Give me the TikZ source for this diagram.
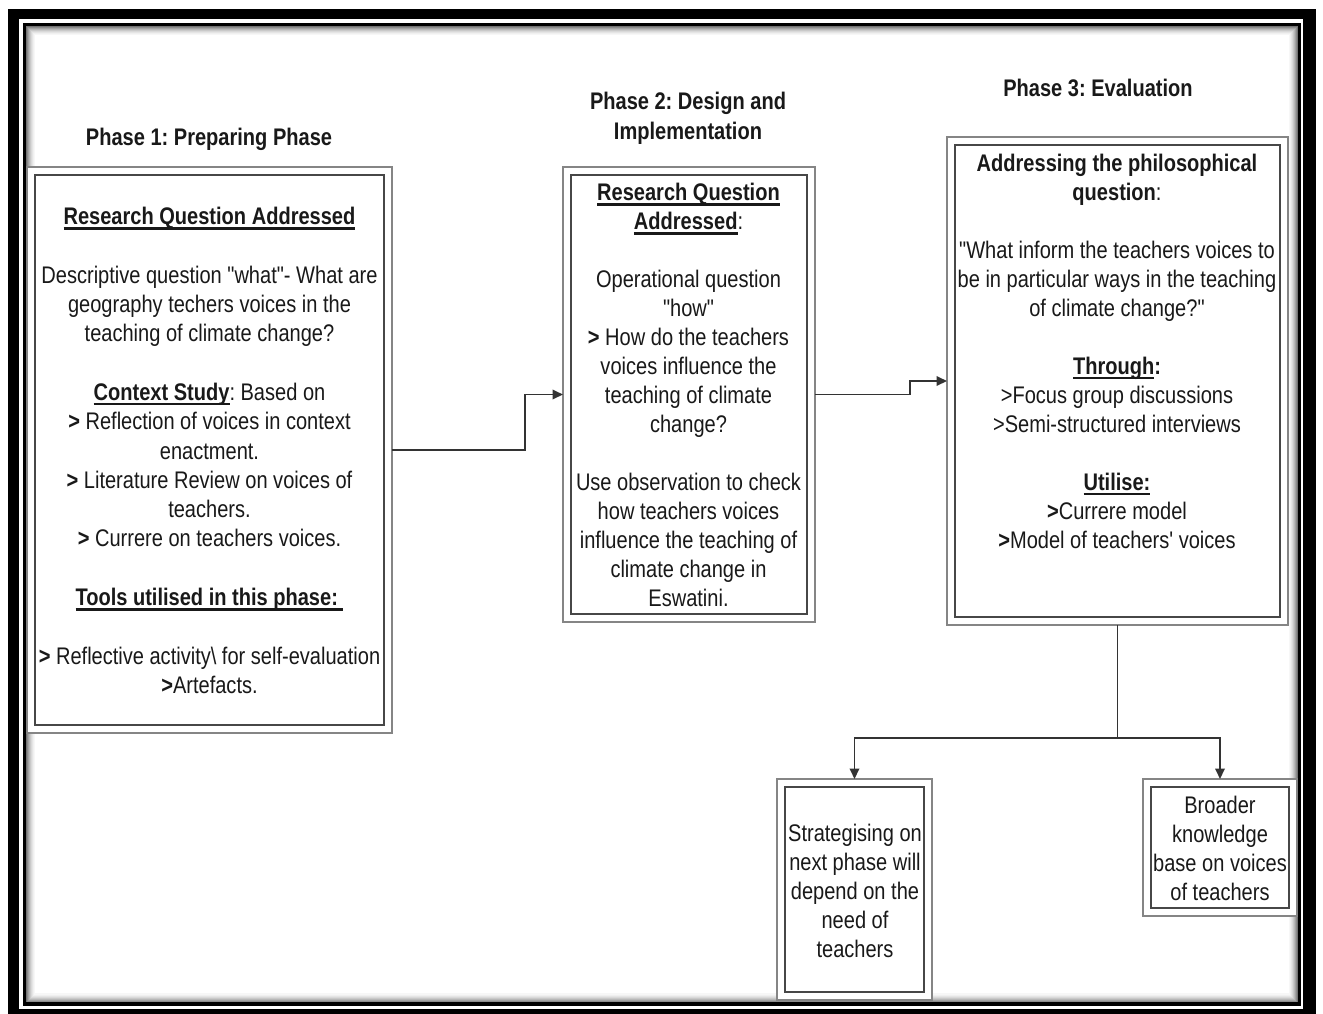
\documentclass[tikz,border=0pt]{standalone}
\usepackage{fontspec}
\setmainfont{Liberation Sans}[FakeStretch=0.835, Ligatures=TeXOff]
\usetikzlibrary{arrows.meta,calc}
\frenchspacing

% underline that keeps the line height unchanged
\newcommand\uln[1]{\setbox0\hbox{#1}\rlap{\rule[-5pt]{\wd0}{2.4pt}}\box0}

\begin{document}
\begin{tikzpicture}[x=1pt,y=-1pt,
  box/.style={draw=black!48, line width=1.8pt, inner sep=0pt, outer sep=0pt, fill=white},
  innerbox/.style={draw=black!72, line width=1.8pt},
  link/.style={draw=black!80, line width=1.8pt},
  conn/.style={link, -{Triangle[length=10.5pt,width=9.5pt]}},
  txt/.style={align=center, text=black!90, inner sep=0pt, font={\fontsize{24}{29}\selectfont}},
  ttl/.style={align=center, text=black!90, inner sep=0pt, font={\fontsize{24}{30}\selectfont\bfseries}}
]
\clip (0,0) rectangle (1323,1013);
\fill[white] (0,0) rectangle (1323,1013);

% page frame: thick outer band, thin inner rule and soft inner shadow
\fill[black] (8,9) rectangle (1316,1030);
\fill[white] (19,19) rectangle (1303,1009);
\foreach \i/\c in {0/55,1/45,2/36,3/28,4/21,5/15,6/10,7/6,8/3}
  \draw[black!\c, line width=1.05pt] (26.5+\i,26.5+\i) rectangle (1297.5-\i,1002-\i);
\draw[black, line width=3.5pt] (24.5,24.5) rectangle (1299.5,1004);

% phase titles
\node[ttl] (h1) at (209,139) {Phase 1: Preparing Phase};
\node[ttl] (h2) at (688,118) {Phase 2: Design and\\Implementation};
\node[ttl] (h3) at (1098,88) {Phase 3: Evaluation};

% framed boxes
\node[box, minimum width=365pt, minimum height=566pt] (p1) at (209.5,450) {};
\node[box, minimum width=252pt, minimum height=455pt] (p2) at (689,394.5) {};
\node[box, minimum width=341pt, minimum height=488pt] (p3) at (1117.5,381) {};
\node[box, minimum width=155pt, minimum height=221pt] (p4) at (854.5,889.5) {};
\node[box, minimum width=154pt, minimum height=137pt] (p5) at (1220,847.5) {};
\foreach \n in {p1,p2,p3,p4,p5}
  \draw[innerbox] ([xshift=8pt,yshift=-8pt]\n.north west) rectangle ([xshift=-8pt,yshift=8pt]\n.south east);

% box texts
\node[txt, font={\fontsize{24}{29.3}\selectfont}] (t1) at (209.5,450.5) {%
\uln{\textbf{Research Question Addressed}}\\[\baselineskip]
Descriptive question "what"- What are\\
geography techers voices in the\\
teaching of climate change?\\[\baselineskip]
\uln{\textbf{Context Study}}: Based on\\
\textbf{>} Reflection of voices in context\\
enactment.\\
\textbf{>} Literature Review on voices of\\
teachers.\\
\textbf{>} Currere on teachers voices.\\[\baselineskip]
\uln{\textbf{Tools utilised in this phase:\ }}\\[\baselineskip]
\textbf{>} Reflective activity\textbackslash{} for self-evaluation\\
\textbf{>}Artefacts.};

\node[txt] (t2) at (688.5,395) {%
\uln{\textbf{Research Question}}\\
\uln{\textbf{Addressed}}:\\[\baselineskip]
Operational question\\
"how"\\
\textbf{>} How do the teachers\\
voices influence the\\
teaching of climate\\
change?\\[\baselineskip]
Use observation to check\\
how teachers voices\\
influence the teaching of\\
climate change in\\
Eswatini.};

\node[txt] (t3) at (1117,351) {%
\textbf{Addressing the philosophical}\\
\textbf{question}:\\[\baselineskip]
"What inform the teachers voices to\\
be in particular ways in the teaching\\
of climate change?"\\[\baselineskip]
\uln{\textbf{Through}}\textbf{:}\\
>Focus group discussions\\
>Semi-structured interviews\\[\baselineskip]
\uln{\textbf{Utilise:}}\\
\textbf{>}Currere model\\
\textbf{>}Model of teachers' voices};

\node[txt] (t4) at (855,891) {Strategising on\\next phase will\\depend on the\\need of\\teachers};
\node[txt] (t5) at (1220,848) {Broader\\knowledge\\base on voices\\of teachers};

% connectors
\draw[conn] (p1.east) -- ++(133,0) |- (p2.west);
\draw[conn] (p2.east) -- ++(95,0) |- (p3.west);
\coordinate (split) at ($(p3.south)+(0,113)$);
\draw[link] (p3.south) -- (split);
\draw[conn] (split) -| (p4.north);
\draw[conn] (split) -| (p5.north);
\end{tikzpicture}
\end{document}
